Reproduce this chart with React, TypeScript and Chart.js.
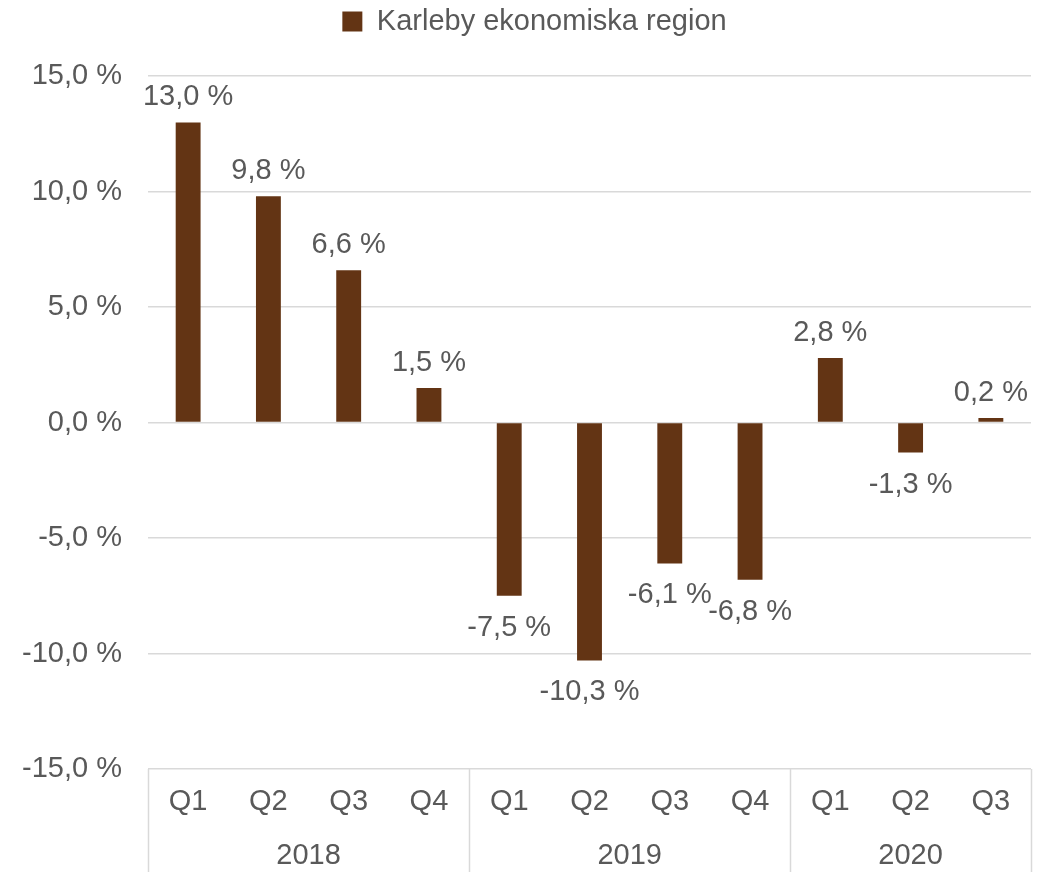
import React, { useEffect, useRef } from 'react';
import { Chart, registerables } from 'chart.js';

Chart.register(...registerables);

const seriesName = 'Karleby ekonomiska region';
const quarters = ['Q1', 'Q2', 'Q3', 'Q4', 'Q1', 'Q2', 'Q3', 'Q4', 'Q1', 'Q2', 'Q3'];
const years = ['2018', '2019', '2020'];
const yearSpans = [4, 4, 3];
const values = [13.0, 9.8, 6.6, 1.5, -7.5, -10.3, -6.1, -6.8, 2.8, -1.3, 0.2];
const yMin = -15;
const yMax = 15;
const yStep = 5;

const BAR_COLOR = '#633414';
const TEXT_COLOR = '#595959';
const GRID_COLOR = '#d9d9d9';
const FONT = 'Liberation Sans, Arial, sans-serif';
const FS = 29;

const fmt = (v: number) => v.toFixed(1).replace('.', ',') + ' %';

const customPlugin = {
  id: 'customDraw',
  afterLayout(chart: any) {
    const l = chart.legend;
    if (l) {
      l.left += 19;
      l.right += 19;
    }
  },
  afterDatasetsDraw(chart: any) {
    const ctx = chart.ctx;
    const meta = chart.getDatasetMeta(0);
    ctx.save();
    ctx.font = `${FS}px ${FONT}`;
    ctx.fillStyle = TEXT_COLOR;
    ctx.textAlign = 'center';
    ctx.textBaseline = 'middle';
    meta.data.forEach((bar: any, i: number) => {
      const v = values[i];
      if (v >= 0) {
        ctx.fillText(fmt(v), bar.x, bar.y - 25);
      } else {
        ctx.fillText(fmt(v), bar.x, bar.y + 32);
      }
    });
    ctx.restore();
  },
  afterDraw(chart: any) {
    const ctx = chart.ctx;
    const xs = chart.scales.x;
    const area = chart.chartArea;
    const bottom = chart.height;
    ctx.save();
    const half = (xs.getPixelForValue(1) - xs.getPixelForValue(0)) / 2;
    ctx.strokeStyle = GRID_COLOR;
    ctx.lineWidth = 1.5;
    let idx = 0;
    const bounds: number[] = [xs.getPixelForValue(0) - half];
    yearSpans.forEach((s) => {
      idx += s;
      bounds.push(xs.getPixelForValue(idx - 1) + half);
    });
    bounds.forEach((bx) => {
      ctx.beginPath();
      ctx.moveTo(Math.round(bx) + 0.5, area.bottom);
      ctx.lineTo(Math.round(bx) + 0.5, bottom);
      ctx.stroke();
    });
    ctx.font = `${FS}px ${FONT}`;
    ctx.fillStyle = TEXT_COLOR;
    ctx.textAlign = 'center';
    ctx.textBaseline = 'middle';
    quarters.forEach((q, i) => {
      ctx.fillText(q, xs.getPixelForValue(i), area.bottom + 33);
    });
    years.forEach((y, i) => {
      const cx = (bounds[i] + bounds[i + 1]) / 2;
      ctx.fillText(y, cx, area.bottom + 87);
    });
    ctx.restore();
  },
};

export default function App() {
  const ref = useRef<HTMLCanvasElement>(null);
  useEffect(() => {
    if (!ref.current) return;
    const chart = new Chart(ref.current, {
      type: 'bar',
      data: {
        labels: quarters,
        datasets: [
          {
            label: seriesName,
            data: values,
            backgroundColor: BAR_COLOR,
            borderWidth: 0,
            barPercentage: 0.31,
            categoryPercentage: 1,
          },
        ],
      },
      options: {
        animation: false,
        responsive: false,
        maintainAspectRatio: false,
        layout: { padding: { top: 0, right: 20, bottom: 103, left: 0 } },
        plugins: {
          legend: {
            position: 'top',
            labels: {
              boxWidth: 20,
              boxHeight: 20,
              color: TEXT_COLOR,
              font: { size: FS, family: FONT },
              padding: 7,
            },
          },
          subtitle: {
            display: true,
            text: ' ',
            weight: 500,
            position: 'top',
            font: { size: 1 },
            padding: { top: 0, bottom: 29 },
          } as any,
          tooltip: { enabled: false },
        },
        scales: {
          x: {
            display: false,
          },
          y: {
            min: yMin,
            max: yMax,
            ticks: {
              stepSize: yStep,
              color: TEXT_COLOR,
              font: { size: FS, family: FONT },
              padding: 26,
              callback: (v: any) => fmt(Number(v)),
            },
            grid: { color: GRID_COLOR, lineWidth: 1.5, drawTicks: false },
            border: { display: false },
            afterFit: (scale: any) => {
              scale.width = 148;
            },
          },
        },
      },
      plugins: [customPlugin],
    });
    return () => chart.destroy();
  }, []);
  return (
    <div style={{ position: 'fixed', left: 0, top: 0, width: 1051, height: 872, background: '#fff' }}>
      <canvas ref={ref} width={1051} height={872} style={{ width: 1051, height: 872 }} />
    </div>
  );
}
